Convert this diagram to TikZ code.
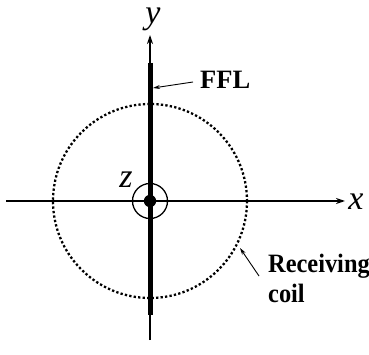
\documentclass[tikz,border=0pt]{standalone}
\usepackage{fontspec}
\setmainfont{Liberation Serif}
\usetikzlibrary{arrows.meta}
\begin{document}
\begin{tikzpicture}[x=1pt,y=-1pt,
  axis/.style={line width=1.3pt,-{Stealth[length=9pt,width=6pt]}},
  pointer/.style={line width=0.9pt,-{Stealth[length=7pt,width=4pt]}},
  axlabel/.style={font=\itshape\fontsize{34}{34}\selectfont,inner sep=0pt},
  boldlabel/.style={font=\bfseries\fontsize{26.5}{30}\selectfont,inner sep=0pt,align=left}]
\useasboundingbox (0,0) rectangle (369,355);
\coordinate (o) at (150,201);
\coordinate (xs) at (6,201);
\coordinate (xe) at (345,201);
\coordinate (ys) at (150,340);
\coordinate (ye) at (150,35);
\coordinate (fa) at (150,63);
\coordinate (fb) at (150,315);
% receiving coil
\draw[line width=2.3pt,dash pattern=on 2.3pt off 2.2pt] (o) circle[radius=97];
% axes
\draw[axis] (xs) -- (xe);
\draw[axis] (ys) -- (ye);
% FFL
\draw[line width=5pt] (fa) -- (fb);
% z marker
\draw[line width=1.3pt] (o) circle[radius=17.5];
\fill (o) circle[radius=6.2];
% labels
\node[axlabel] (ly) at (153,19) {y};
\node[axlabel] (lx) at (356,202) {x};
\node[axlabel] (lz) at (126,180) {z};
\node[boldlabel,anchor=west] (ffl) at (200,80) {FFL};
\node[boldlabel,anchor=north west,xscale=0.92,transform shape] (rc) at (268,254) {Receiving\\coil};
\coordinate (fflt) at (153,88);
\coordinate (rct) at (240,248);
\coordinate (rcs) at (259,276);
\draw[pointer] ([xshift=-7pt,yshift=-2pt]ffl.west) -- (fflt);
\draw[pointer] (rcs) -- (rct);
\end{tikzpicture}
\end{document}
